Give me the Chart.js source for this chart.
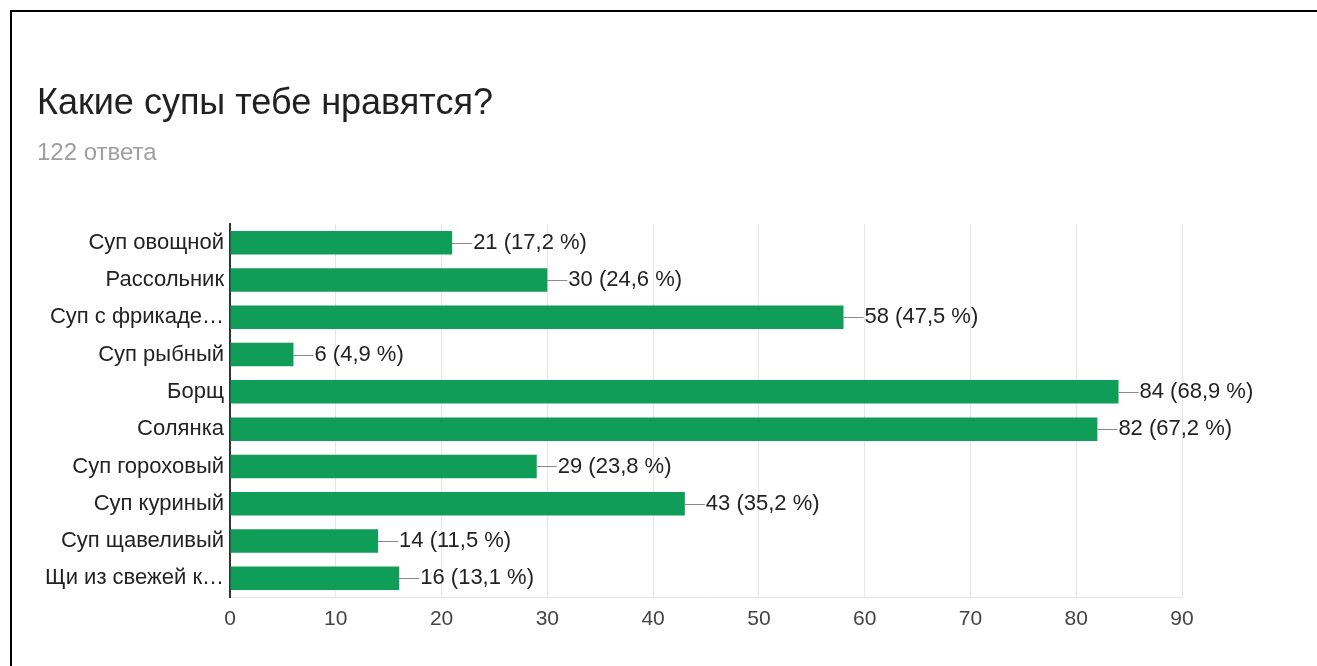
<!DOCTYPE html>
<html>
<head>
<meta charset="utf-8">
<script src="https://cdn.jsdelivr.net/npm/chart.js@4"></script>
<style>
	html, body { margin: 0; padding: 0; background: #fff; }
	#frame { position: absolute; left: 10px; top: 10px; width: 1400px; height: 700px; border-top: 2px solid #000; border-left: 2px solid #000; }
	#wrap { position: absolute; left: 0; top: 0; width: 1317px; height: 666px; }
</style>
</head>
<body>
<div id="frame"></div>
<div id="wrap"><canvas id="myChart" width="1317" height="666"></canvas></div>
<script>
var title_text = "Какие супы тебе нравятся?";
var subtitle_text = "122 ответа";

var soups = [
	"Суп овощной",
	"Рассольник",
	"Суп с фрикаде…",
	"Суп рыбный",
	"Борщ",
	"Солянка",
	"Суп гороховый",
	"Суп куриный",
	"Суп щавеливый",
	"Щи из свежей к…"
];
var answers = [21, 30, 58, 6, 84, 82, 29, 43, 14, 16];
var percents = ["17,2", "24,6", "47,5", "4,9", "68,9", "67,2", "23,8", "35,2", "11,5", "13,1"];
var x_ticks = [0, 10, 20, 30, 40, 50, 60, 70, 80, 90];

var sans = '"Liberation Sans", Arial, sans-serif';

// leader line + "n (p %)" after each bar
var valueLabels = {
	id: 'valueLabels',
	afterDatasetsDraw: function (chart) {
		var ctx = chart.ctx;
		var meta = chart.getDatasetMeta(0);
		ctx.save();
		ctx.font = '22px ' + sans;
		ctx.textBaseline = 'middle';
		ctx.textAlign = 'left';
		for (var i in meta.data) {
			var bar = meta.data[i];
			var y = Math.round(bar.y) + 0.5;
			ctx.strokeStyle = '#8a8a8a';
			ctx.lineWidth = 1;
			ctx.beginPath();
			ctx.moveTo(bar.x, y);
			ctx.lineTo(bar.x + 20, y);
			ctx.stroke();
			ctx.fillStyle = '#222';
			ctx.fillText(answers[i] + " (" + percents[i] + " %)", bar.x + 21, bar.y);
		}
		ctx.restore();
	}
};

const ctx = document.getElementById('myChart');

new Chart(ctx, {
	type: 'bar',
	data: {
		labels: soups,
		datasets: [{
			data: answers,
			backgroundColor: '#109d58',
			barPercentage: 0.63,
			categoryPercentage: 1
		}]
	},
	plugins: [valueLabels],
	options: {
		indexAxis: 'y',
		responsive: false,
		animation: false,
		layout: { padding: { left: 37, right: 135, top: 0, bottom: 0 } },
		plugins: {
			legend: { display: false },
			tooltip: { enabled: false },
			title: {
				display: true,
				text: title_text,
				align: 'start',
				color: '#212121',
				font: { family: sans, size: 36, weight: 'normal' },
				padding: { top: 82, bottom: 0 }
			},
			subtitle: {
				display: true,
				text: subtitle_text,
				align: 'start',
				color: '#9e9e9e',
				font: { family: sans, size: 24, weight: 'normal' },
				padding: { top: 14, bottom: 56 }
			}
		},
		scales: {
			x: {
				min: 0,
				max: 90,
				afterBuildTicks: function (axis) {
					axis.ticks = x_ticks.map(function (v) { return { value: v }; });
				},
				afterFit: function (axis) { axis.height = 69; },
				grid: { color: '#e6e6e6', drawTicks: false },
				border: { color: '#e6e6e6' },
				ticks: {
					padding: 10,
					color: '#444',
					font: { family: sans, size: 21 }
				}
			},
			y: {
				afterFit: function (axis) { axis.width = 193; },
				grid: { display: false, drawTicks: false },
				border: { color: '#333', width: 2 },
				ticks: {
					padding: 6,
					color: '#222',
					font: { family: sans, size: 22 }
				}
			}
		}
	}
});
</script>
</body>
</html>
